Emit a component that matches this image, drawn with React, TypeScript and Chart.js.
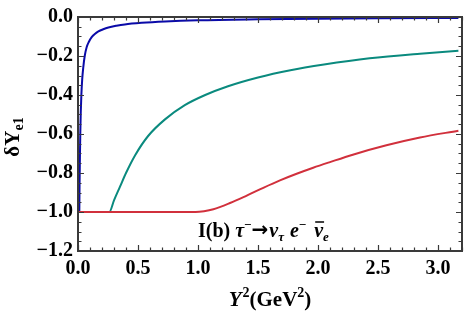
import React, { useEffect, useRef } from "react";
import { Chart, registerables } from "chart.js";

Chart.register(...registerables);

// Data (x = Y^2 in GeV^2, y = δΥ_e1)
const blueX = [0.011, 0.013, 0.016, 0.019, 0.023, 0.028, 0.035, 0.044, 0.056, 0.072, 0.09, 0.114, 0.14, 0.17, 0.21, 0.253, 0.32, 0.39, 0.53, 0.725, 1.0, 1.5, 2.0, 2.5, 3.17];
const blueY = [-1.0, -0.86, -0.72, -0.6, -0.49, -0.4, -0.32, -0.258, -0.2, -0.155, -0.128, -0.103, -0.087, -0.074, -0.063, -0.054, -0.045, -0.038, -0.03, -0.023, -0.017, -0.012, -0.009, -0.007, -0.005];

const tealX = [0.0, 0.261, 0.3, 0.35, 0.4, 0.475, 0.586, 0.725, 0.89, 1.06, 1.25, 1.5, 1.77, 2.05, 2.43, 2.85, 3.17];
const tealY = [-1.0, -1.0, -0.94, -0.87, -0.8, -0.71, -0.609, -0.525, -0.452, -0.4, -0.355, -0.31, -0.273, -0.244, -0.212, -0.188, -0.173];

const redX = [0.0, 0.5, 0.98, 1.05, 1.128, 1.267, 1.406, 1.544, 1.683, 1.822, 1.96, 2.1, 2.29, 2.57, 2.85, 3.17];
const redY = [-1.0, -1.0, -1.0, -0.996, -0.986, -0.954, -0.916, -0.876, -0.838, -0.804, -0.773, -0.744, -0.706, -0.658, -0.618, -0.583];

const xTickVals = [0, 0.5, 1.0, 1.5, 2.0, 2.5, 3.0];
const yTickVals = [-1.2, -1.0, -0.8, -0.6, -0.4, -0.2, 0.0];
const xMinorStep = 0.1;
const yMinorStep = 0.05;

const BLUE = "#0a0aa8";
const TEAL = "#0a8a7e";
const RED = "#d1303c";
const FRAME = "#3a3a3a";

const SERIF = "'Liberation Serif', 'DejaVu Serif', serif";

function pts(xs: number[], ys: number[]) {
  return xs.map((x, i) => ({ x, y: ys[i] }));
}

type Seg = { t: string; style?: string; size?: number; dy?: number; dx?: number; over?: boolean; family?: string };

function drawRich(ctx: CanvasRenderingContext2D, segs: Seg[], x: number, y: number, align: "left" | "center") {
  const font = (s: Seg) => `${s.style || "bold"} ${s.size || 20}px ${s.family || SERIF}`;
  let total = 0;
  for (const s of segs) {
    ctx.font = font(s);
    total += ctx.measureText(s.t).width + (s.dx || 0);
  }
  let cx = align === "center" ? x - total / 2 : x;
  ctx.textBaseline = "alphabetic";
  ctx.textAlign = "left";
  for (const s of segs) {
    ctx.font = font(s);
    cx += s.dx || 0;
    const w = ctx.measureText(s.t).width;
    ctx.fillText(s.t, cx, y + (s.dy || 0));
    if (s.over) {
      ctx.save();
      ctx.lineWidth = 1.5;
      ctx.strokeStyle = "#000";
      ctx.beginPath();
      ctx.moveTo(cx + 1, y - 15);
      ctx.lineTo(cx + w + 1, y - 15);
      ctx.stroke();
      ctx.restore();
    }
    cx += w;
  }
}

const framePlugin = {
  id: "framePlugin",
  afterDatasetsDraw(chart: any) {
    const { ctx, chartArea: a, scales } = chart;
    const xs = scales.x;
    const ys = scales.y;
    ctx.save();
    ctx.strokeStyle = FRAME;
    ctx.lineWidth = 1.2;
    const nX = Math.round((3.2 - 0) / xMinorStep);
    for (let i = 0; i <= nX; i++) {
      const v = i * xMinorStep;
      const major = i % 5 === 0;
      const len = major ? 6 : 3.5;
      const px = Math.round(xs.getPixelForValue(v)) + 0.5;
      ctx.beginPath();
      ctx.moveTo(px, a.bottom);
      ctx.lineTo(px, a.bottom - len);
      ctx.moveTo(px, a.top);
      ctx.lineTo(px, a.top + len);
      ctx.stroke();
    }
    const nY = Math.round(1.2 / yMinorStep);
    for (let i = 0; i <= nY; i++) {
      const v = -1.2 + i * yMinorStep;
      const major = i % 4 === 0;
      const len = major ? 6 : 3.5;
      const py = Math.round(ys.getPixelForValue(v)) + 0.5;
      ctx.beginPath();
      ctx.moveTo(a.left, py);
      ctx.lineTo(a.left + len, py);
      ctx.moveTo(a.right, py);
      ctx.lineTo(a.right - len, py);
      ctx.stroke();
    }
    ctx.lineWidth = 2;
    ctx.strokeRect(a.left, a.top, a.right - a.left, a.bottom - a.top);
    ctx.restore();
  },
  afterDraw(chart: any) {
    const { ctx, chartArea: a } = chart;
    ctx.save();
    ctx.fillStyle = "#000";
    drawRich(
      ctx,
      [
        { t: "Y", style: "italic bold", size: 21 },
        { t: "2", size: 14, dy: -9, dx: 1 },
        { t: "(GeV", size: 21 },
        { t: "2", size: 14, dy: -9 },
        { t: ")", size: 21 },
      ],
      (a.left + a.right) / 2,
      306,
      "center"
    );
    drawRich(
      ctx,
      [
        { t: "I(b) ", size: 20 },
        { t: "τ", style: "italic bold", size: 20 },
        { t: "−", size: 13, dy: -8 },
        { t: "→", size: 20, family: "'DejaVu Sans', sans-serif", dy: -1 },
        { t: "ν", style: "italic bold", size: 20, dx: 1 },
        { t: "τ", style: "italic bold", size: 13, dy: 4 },
        { t: "e", style: "italic bold", size: 20, dx: 6 },
        { t: "−", size: 13, dy: -8 },
        { t: "ν", style: "italic bold", size: 20, dx: 8, over: true },
        { t: "e", style: "italic bold", size: 13, dy: 4 },
      ],
      198,
      237,
      "left"
    );
    ctx.translate(19, (a.top + a.bottom) / 2 + 3);
    ctx.rotate(-Math.PI / 2);
    drawRich(
      ctx,
      [
        { t: "δΥ", size: 21 },
        { t: "e1", size: 14, dy: 4 },
      ],
      0,
      0,
      "center"
    );
    ctx.restore();
  },
};

export default function App() {
  const ref = useRef<HTMLCanvasElement | null>(null);
  useEffect(() => {
    if (!ref.current) return;
    const chart = new Chart(ref.current, {
      type: "scatter",
      data: {
        datasets: [
          { data: pts(redX, redY), borderColor: RED },
          { data: pts(tealX, tealY), borderColor: TEAL },
          { data: pts(blueX, blueY), borderColor: BLUE },
        ].map((d) => ({
          ...d,
          showLine: true,
          borderWidth: 2,
          pointRadius: 0,
          pointHoverRadius: 0,
          cubicInterpolationMode: "monotone" as const,
          fill: false,
        })),
      },
      options: {
        responsive: false,
        animation: false,
        events: [],
        layout: { padding: { top: 13, right: 3, left: 0, bottom: 0 } },
        plugins: { legend: { display: false }, tooltip: { enabled: false }, title: { display: false } },
        scales: {
          x: {
            type: "linear",
            min: 0,
            max: 3.2,
            afterBuildTicks: (s: any) => {
              s.ticks = xTickVals.map((v) => ({ value: v }));
            },
            afterFit: (s: any) => {
              s.height = 62;
            },
            grid: { display: false, drawTicks: false },
            border: { display: false },
            ticks: {
              padding: 6,
              maxRotation: 0,
              autoSkip: false,
              color: "#000",
              font: { family: SERIF, size: 20, weight: "bold" },
              callback: (v: any) => Number(v).toFixed(1),
            },
          },
          y: {
            type: "linear",
            min: -1.2,
            max: 0,
            afterBuildTicks: (s: any) => {
              s.ticks = yTickVals.map((v) => ({ value: v }));
            },
            afterFit: (s: any) => {
              s.width = 78;
            },
            grid: { display: false, drawTicks: false },
            border: { display: false },
            ticks: {
              padding: 5,
              autoSkip: false,
              color: "#000",
              font: { family: SERIF, size: 20, weight: "bold" },
              callback: (v: any) => {
                const n = Number(v);
                return Math.abs(n) < 1e-9 ? "0.0" : "−" + Math.abs(n).toFixed(1);
              },
            },
          },
        },
      },
      plugins: [framePlugin],
    });
    return () => chart.destroy();
  }, []);
  return (
    <div style={{ position: "fixed", left: 0, top: 0, width: 465, height: 313, background: "#fff" }}>
      <canvas ref={ref} width={465} height={313} style={{ width: 465, height: 313, display: "block" }} />
    </div>
  );
}
